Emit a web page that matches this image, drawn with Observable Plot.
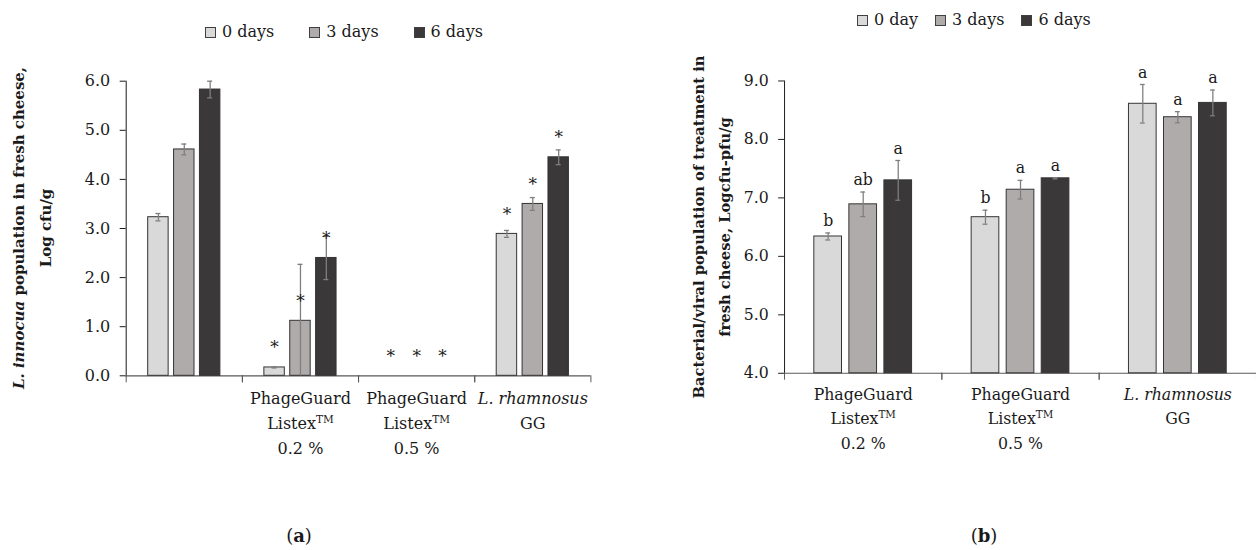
<!DOCTYPE html>
<html><head><meta charset="utf-8">
<script src="https://cdn.jsdelivr.net/npm/d3@7"></script>
<script src="https://cdn.jsdelivr.net/npm/@observablehq/plot@0.6"></script>
<style>
html,body{margin:0;padding:0;background:#fff;}
#root{position:relative;width:1256px;height:550px;overflow:hidden;font-family:"DejaVu Serif",serif;color:#1a1a1a;background:#fff;}
.legend{position:absolute;display:flex;align-items:center;font-size:16px;line-height:20px;white-space:nowrap;}
.legend .item{display:flex;align-items:center;}
.legend .sw{width:9px;height:9px;border:1px solid #404040;margin-right:6px;}
.chart{position:absolute;top:50px;}
.cap{position:absolute;top:524px;font-size:18px;line-height:24px;transform:translateX(-50%);}
.cap b{font-weight:bold;}
</style></head><body><div id="root"></div>
<script>
// ---------- shared ----------
const dayKeys = ["d0", "d3", "d6"];
const dayColors = ["#d9d9d9", "#afabab", "#3a3838"];
const legendA = ["0 days", "3 days", "6 days"];
const legendB = ["0 day", "3 days", "6 days"];

// ---------- panel (a) ----------
const categoriesA = ["Control", "PG 0.2", "PG 0.5", "LGG"];
const tickLabelsA = ["", "PhageGuard\nListex™\n0.2 %", "PhageGuard\nListex™\n0.5 %", "L. rhamnosus\nGG"];
const meanA_d0 = [3.23, 0.17, 0, 2.89];
const meanA_d3 = [4.61, 1.12, 0, 3.50];
const meanA_d6 = [5.83, 2.40, 0, 4.45];
const sdA_d0 = [0.075, 0.01, 0, 0.07];
const sdA_d3 = [0.11, 1.15, 0, 0.13];
const sdA_d6 = [0.17, 0.44, 0, 0.15];
const sigA_d0 = ["", "*", "*", "*"];
const sigA_d3 = ["", "*", "*", "*"];
const sigA_d6 = ["", "*", "*", "*"];
const yTicksA = [0, 1, 2, 3, 4, 5, 6];

// ---------- panel (b) ----------
const categoriesB = ["PG 0.2", "PG 0.5", "LGG"];
const tickLabelsB = ["PhageGuard\nListex™\n0.2 %", "PhageGuard\nListex™\n0.5 %", "L. rhamnosus\nGG"];
const meanB_d0 = [6.34, 6.67, 8.61];
const meanB_d3 = [6.89, 7.14, 8.38];
const meanB_d6 = [7.30, 7.335, 8.625];
const sdB_d0 = [0.06, 0.12, 0.33];
const sdB_d3 = [0.21, 0.16, 0.095];
const sdB_d6 = [0.34, 0.01, 0.22];
const letB_d0 = ["b", "b", "a"];
const letB_d3 = ["ab", "a", "a"];
const letB_d6 = ["a", "a", "a"];
const yTicksB = [4, 5, 6, 7, 8, 9];

function buildRows(cats, means, sds, labs) {
  const out = [];
  cats.forEach((c, i) => dayKeys.forEach((k, j) => out.push({cat: c, day: k, v: means[j][i], e: sds[j][i], lab: labs[j][i]})));
  return out;
}
const rowsA = buildRows(categoriesA, [meanA_d0, meanA_d3, meanA_d6], [sdA_d0, sdA_d3, sdA_d6], [sigA_d0, sigA_d3, sigA_d6]);
const rowsB = buildRows(categoriesB, [meanB_d0, meanB_d3, meanB_d6], [sdB_d0, sdB_d3, sdB_d6], [letB_d0, letB_d3, letB_d6]);

function panel(o) {
  const yMin = o.yDomain[0];
  const innerH = o.height - o.mt - o.mb;
  const bars = o.rows.filter(d => d.v > yMin);
  const errs = o.rows.filter(d => d.e > 0);
  const labelled = o.rows.filter(d => d.lab);
  const grey = "#7f7f7f";
  return Plot.plot({
    width: o.width, height: o.height,
    marginTop: o.mt, marginBottom: o.mb, marginLeft: o.ml, marginRight: o.mr,
    style: {fontFamily: '"DejaVu Serif", serif', fontSize: "16px", color: "#1a1a1a", background: "transparent", overflow: "visible"},
    fx: {domain: o.cats, padding: 0, round: false},
    x: {domain: dayKeys, paddingInner: 0.21, paddingOuter: 0.85, round: false, axis: null},
    y: {domain: o.yDomain, ticks: o.yTicks, tickFormat: d3.format(".1f"), tickSize: 6, tickPadding: 10, line: true, label: null},
    color: {domain: dayKeys, range: dayColors},
    marks: [
      Plot.ruleY([yMin], {stroke: "#595959", strokeWidth: 1.2}),
      Plot.frame({anchor: "left", insetTop: innerH, insetBottom: -6, stroke: "#595959"}),
      Plot.frame({anchor: "right", insetTop: innerH, insetBottom: -6, stroke: "#595959"}),
      Plot.barY(bars, {fx: "cat", x: "day", y1: () => yMin, y2: "v", fill: "day", stroke: "#333", strokeWidth: 1}),
      Plot.ruleX(errs, {fx: "cat", x: "day", y1: d => Math.max(yMin, d.v - d.e), y2: d => d.v + d.e, stroke: grey, strokeWidth: 1.3}),
      Plot.tickY(errs, {fx: "cat", x: "day", y: d => d.v + d.e, insetLeft: o.capInset, insetRight: o.capInset, stroke: grey, strokeWidth: 1.3}),
      Plot.tickY(errs.filter(d => d.v - d.e > yMin), {fx: "cat", x: "day", y: d => d.v - d.e, insetLeft: o.capInset, insetRight: o.capInset, stroke: grey, strokeWidth: 1.3}),
      Plot.text(labelled, {fx: "cat", x: "day", y: o.labelFromErr ? (d => d.v + d.e) : "v", text: "lab", lineAnchor: "bottom", dy: o.labelDy, fontSize: o.labelSize, fill: "#1a1a1a"}),
      Plot.axisFx({anchor: "bottom", tickSize: 0, tickPadding: o.fxPad, lineHeight: 1.5625, fontSize: 16, label: null,
        tickFormat: k => o.labels[o.cats.indexOf(k)]})
    ]
  });
}

function decorate(svg) {
  d3.select(svg).selectAll("tspan").each(function () {
    const t = this.textContent;
    if (t === "L. rhamnosus") this.setAttribute("font-style", "italic");
    if (t.endsWith("™")) {
      this.textContent = t.slice(0, -1);
      const sup = document.createElementNS("http://www.w3.org/2000/svg", "tspan");
      sup.setAttribute("font-size", "10.5px");
      sup.setAttribute("baseline-shift", "super");
      sup.textContent = "TM";
      this.appendChild(sup);
    }
  });
}

function yTitle(svg, x1, x2, yc, line1Parts, line2) {
  const g = d3.select(svg).append("g").attr("font-weight", "bold").attr("font-size", 15).attr("fill", "#1a1a1a").attr("text-anchor", "middle");
  const t1 = g.append("text").attr("transform", `translate(${x1},${yc}) rotate(-90)`);
  line1Parts.forEach(p => t1.append("tspan").attr("font-style", p.italic ? "italic" : null).text(p.text));
  g.append("text").attr("transform", `translate(${x2},${yc}) rotate(-90)`).text(line2);
}

const root = document.getElementById("root");

// ---- chart a ----
const svgA = panel({
  rows: rowsA, cats: categoriesA, labels: tickLabelsA, yDomain: [0, 6], yTicks: yTicksA,
  width: 628, height: 430, mt: 30.7, mb: 104.7, ml: 125.7, mr: 37.6,
  capInset: 7.7, labelFromErr: false, labelDy: -14, labelSize: 17, fxPad: 10
});
decorate(svgA);
yTitle(svgA, 24, 51, 178, [{text: "L. innocua", italic: true}, {text: " population in fresh cheese,"}], "Log cfu/g");
const wa = document.createElement("div"); wa.className = "chart"; wa.style.left = "0px"; wa.appendChild(svgA); root.appendChild(wa);

// ---- chart b ----
const svgB = panel({
  rows: rowsB, cats: categoriesB, labels: tickLabelsB, yDomain: [4, 9], yTicks: yTicksB,
  width: 638.7, height: 430, mt: 31, mb: 101.7, ml: 158.7, mr: 0,
  capInset: 11.6, labelFromErr: true, labelDy: -7, labelSize: 16, fxPad: 9
});
decorate(svgB);
yTitle(svgB, 705 - 628, 732 - 628, 180, [{text: "Bacterial/viral population of treatment in"}], "fresh cheese, Logcfu-pfu/g");
const wb = document.createElement("div"); wb.className = "chart"; wb.style.left = "628px"; wb.appendChild(svgB); root.appendChild(wb);

// ---- legends ----
function legend(labels, left, top, gap) {
  const L = document.createElement("div");
  L.className = "legend"; L.style.left = left + "px"; L.style.top = top + "px"; L.style.gap = gap + "px";
  labels.forEach((lab, i) => {
    const it = document.createElement("div"); it.className = "item";
    const sw = document.createElement("span"); sw.className = "sw"; sw.style.background = dayColors[i];
    const tx = document.createElement("span"); tx.textContent = lab;
    it.appendChild(sw); it.appendChild(tx); L.appendChild(it);
  });
  root.appendChild(L);
}
legend(legendA, 205, 22, 35);
legend(legendB, 857, 10, 17);

// ---- captions ----
[["a", 299], ["b", 984]].forEach(([t, x]) => {
  const c = document.createElement("div"); c.className = "cap"; c.style.left = x + "px";
  c.appendChild(document.createTextNode("("));
  const b = document.createElement("b"); b.textContent = t; c.appendChild(b);
  c.appendChild(document.createTextNode(")"));
  root.appendChild(c);
});
</script></body></html>
